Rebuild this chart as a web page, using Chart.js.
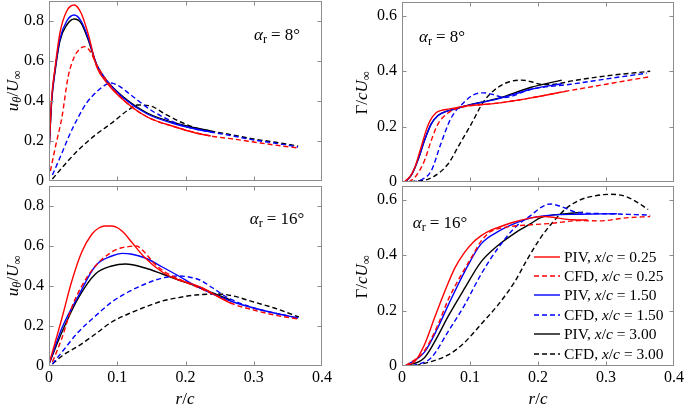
<!DOCTYPE html>
<html>
<head>
<meta charset="utf-8">
<script src="https://cdn.jsdelivr.net/npm/chart.js@4.4.1/dist/chart.umd.min.js"></script>
<style>
  body { margin: 0; background: #fff; }
  #wrap { position: relative; width: 685px; height: 407px; overflow: hidden; font-family: "Liberation Serif", "DejaVu Serif", serif; color: #000; }
  canvas { position: absolute; }
  .lbl { position: absolute; white-space: nowrap; font-size: 17px; line-height: 1; z-index: 5; }
  .rot { transform: translate(-50%, -50%) rotate(-90deg); }
  .ctr { transform: translate(-50%, -50%); }
  .eq { margin: 0 4px; }
  sub { font-size: 0.72em; vertical-align: -0.3em; line-height: 0; }
  #legend { position: absolute; left: 534px; top: 247px; z-index: 5; font-size: 15.5px; }
  .lrow { display: flex; align-items: center; height: 19.4px; white-space: nowrap; }
  .lrow svg { margin-right: 4px; }
</style>
</head>
<body>
<div id="wrap">
  <canvas id="tl"></canvas>
  <canvas id="tr"></canvas>
  <canvas id="bl"></canvas>
  <canvas id="br"></canvas>

  <div class="lbl rot" style="left:12px; top:91px;"><i>u</i><sub><i>θ</i></sub>/<i>U</i><sub>∞</sub></div>
  <div class="lbl rot" style="left:12px; top:276px;"><i>u</i><sub><i>θ</i></sub>/<i>U</i><sub>∞</sub></div>
  <div class="lbl rot" style="left:361px; top:93px;">Γ/<i>cU</i><sub>∞</sub></div>
  <div class="lbl rot" style="left:361px; top:277px;">Γ/<i>cU</i><sub>∞</sub></div>

  <div class="lbl ctr" style="left:277px; top:34px;"><i>α</i><sub>r</sub><span class="eq">=</span>8°</div>
  <div class="lbl ctr" style="left:442px; top:36px;"><i>α</i><sub>r</sub><span class="eq">=</span>8°</div>
  <div class="lbl ctr" style="left:277px; top:218px;"><i>α</i><sub>r</sub><span class="eq">=</span>16°</div>
  <div class="lbl ctr" style="left:440px; top:222px;"><i>α</i><sub>r</sub><span class="eq">=</span>16°</div>

  <div class="lbl ctr" style="left:185px; top:398px;"><i>r</i>/<i>c</i></div>
  <div class="lbl ctr" style="left:538px; top:398px;"><i>r</i>/<i>c</i></div>

  <div id="legend"></div>
</div>

<script>
// 軸刻度
const xTicks = [0, 0.1, 0.2, 0.3, 0.4];
const uTicks = [0, 0.2, 0.4, 0.6, 0.8];
const gTicks = [0, 0.2, 0.4, 0.6];
const rMax = 0.4, uMax = 0.9, gMax = 0.65;

const seriesNames = ['PIV, x/c = 0.25', 'CFD, x/c = 0.25', 'PIV, x/c = 1.50', 'CFD, x/c = 1.50', 'PIV, x/c = 3.00', 'CFD, x/c = 3.00'];
const seriesColors = ['#ff0000', '#ff0000', '#0000ff', '#0000ff', '#000000', '#000000'];
const seriesDash = [[], [5, 3], [], [5, 3], [], [5, 3]];

// u_θ/U∞, α = 8°
const u8_piv_r = [0, 0.004, 0.009, 0.016, 0.026, 0.037, 0.047, 0.057, 0.07, 0.085, 0.109, 0.144, 0.185, 0.215, 0.237];
const u8_piv025 = [0.146, 0.42, 0.57, 0.74, 0.85, 0.88, 0.84, 0.74, 0.57, 0.49, 0.405, 0.32, 0.27, 0.24, 0.225];
const u8_piv150 = [0.146, 0.41, 0.56, 0.71, 0.80, 0.83, 0.80, 0.72, 0.58, 0.50, 0.415, 0.335, 0.285, 0.26, 0.245];
const u8_piv300 = [0.146, 0.40, 0.55, 0.70, 0.78, 0.81, 0.79, 0.71, 0.58, 0.50, 0.42, 0.34, 0.29, 0.265, 0.25];
const u8_cfd025_r = [0.002, 0.01, 0.019, 0.028, 0.037, 0.045, 0.053, 0.06, 0.07, 0.085, 0.109, 0.144, 0.185, 0.237, 0.27, 0.3, 0.33, 0.365];
const u8_cfd025 = [0.05, 0.18, 0.32, 0.52, 0.62, 0.66, 0.672, 0.65, 0.58, 0.5, 0.405, 0.32, 0.27, 0.225, 0.21, 0.195, 0.18, 0.165];
const u8_cfd150_r = [0.005, 0.019, 0.03, 0.043, 0.055, 0.068, 0.08, 0.09, 0.1, 0.12, 0.149, 0.17, 0.193, 0.215, 0.237, 0.27, 0.3, 0.33, 0.365];
const u8_cfd150 = [0.03, 0.14, 0.23, 0.32, 0.39, 0.44, 0.475, 0.49, 0.48, 0.43, 0.355, 0.315, 0.28, 0.26, 0.245, 0.225, 0.205, 0.19, 0.17];
const u8_cfd300_r = [0.005, 0.02, 0.043, 0.068, 0.092, 0.116, 0.13, 0.149, 0.17, 0.193, 0.215, 0.237, 0.27, 0.3, 0.33, 0.365];
const u8_cfd300 = [0.01, 0.07, 0.155, 0.23, 0.29, 0.355, 0.38, 0.375, 0.335, 0.295, 0.265, 0.25, 0.23, 0.21, 0.195, 0.175];

// Γ/cU∞, α = 8°
const g8_piv025_r = [0.003, 0.012, 0.019, 0.025, 0.031, 0.036, 0.041, 0.05, 0.06, 0.068, 0.092, 0.141, 0.188, 0.242];
const g8_piv025 = [0, 0.02, 0.053, 0.1, 0.15, 0.19, 0.22, 0.25, 0.26, 0.263, 0.274, 0.285, 0.303, 0.328];
const g8_piv_r = [0.005, 0.015, 0.025, 0.033, 0.043, 0.053, 0.065, 0.08, 0.092, 0.141, 0.19, 0.235];
const g8_piv150 = [0, 0.03, 0.09, 0.15, 0.21, 0.24, 0.255, 0.265, 0.274, 0.30, 0.335, 0.355];
const g8_piv300 = [0, 0.03, 0.09, 0.15, 0.21, 0.24, 0.255, 0.265, 0.274, 0.302, 0.342, 0.368];
const g8_cfd025_r = [0.01, 0.02, 0.033, 0.043, 0.053, 0.068, 0.08, 0.092, 0.141, 0.188, 0.242, 0.3, 0.33, 0.362];
const g8_cfd025 = [0, 0.02, 0.077, 0.15, 0.21, 0.25, 0.265, 0.272, 0.285, 0.303, 0.328, 0.353, 0.366, 0.379];
const g8_cfd150_r = [0.015, 0.03, 0.043, 0.057, 0.072, 0.092, 0.105, 0.12, 0.135, 0.15, 0.19, 0.248, 0.3, 0.36];
const g8_cfd150 = [0, 0.01, 0.04, 0.137, 0.23, 0.29, 0.315, 0.322, 0.315, 0.305, 0.335, 0.353, 0.372, 0.393];
const g8_cfd300_r = [0.012, 0.043, 0.068, 0.082, 0.102, 0.12, 0.14, 0.158, 0.176, 0.19, 0.203, 0.22, 0.25, 0.3, 0.365];
const g8_cfd300 = [0, 0.015, 0.066, 0.125, 0.21, 0.29, 0.34, 0.362, 0.368, 0.362, 0.353, 0.352, 0.365, 0.383, 0.4];

// u_θ/U∞, α = 16°
const u16_piv025_r = [0, 0.01, 0.019, 0.033, 0.048, 0.063, 0.073, 0.082, 0.092, 0.101, 0.11, 0.121, 0.141, 0.166, 0.19, 0.2, 0.225, 0.248, 0.268];
const u16_piv025 = [0.01, 0.13, 0.24, 0.42, 0.57, 0.66, 0.69, 0.70, 0.70, 0.69, 0.665, 0.62, 0.54, 0.47, 0.43, 0.42, 0.39, 0.345, 0.31];
const u16_piv150_r = [0, 0.019, 0.043, 0.068, 0.092, 0.107, 0.12, 0.141, 0.166, 0.19, 0.215, 0.24, 0.27, 0.3, 0.33, 0.365];
const u16_piv150 = [0.01, 0.19, 0.35, 0.50, 0.55, 0.563, 0.56, 0.54, 0.495, 0.45, 0.40, 0.36, 0.32, 0.29, 0.265, 0.24];
const u16_piv300_r = [0, 0.019, 0.043, 0.068, 0.092, 0.112, 0.141, 0.166, 0.19, 0.215, 0.24, 0.266];
const u16_piv300 = [0.01, 0.17, 0.34, 0.46, 0.50, 0.51, 0.49, 0.46, 0.43, 0.40, 0.365, 0.33];
const u16_cfd025_r = [0.005, 0.019, 0.033, 0.048, 0.068, 0.092, 0.105, 0.116, 0.128, 0.141, 0.155, 0.17, 0.19, 0.22, 0.25, 0.27, 0.3, 0.33, 0.365];
const u16_cfd025 = [0.02, 0.14, 0.29, 0.40, 0.50, 0.57, 0.59, 0.597, 0.60, 0.565, 0.51, 0.47, 0.435, 0.39, 0.345, 0.31, 0.28, 0.255, 0.235];
const u16_cfd150_r = [0.005, 0.019, 0.043, 0.068, 0.092, 0.116, 0.141, 0.166, 0.19, 0.205, 0.221, 0.24, 0.26, 0.3, 0.33, 0.365];
const u16_cfd150 = [0.01, 0.07, 0.17, 0.25, 0.32, 0.37, 0.41, 0.44, 0.45, 0.445, 0.43, 0.39, 0.345, 0.29, 0.265, 0.24];
const u16_cfd300_r = [0.005, 0.019, 0.043, 0.068, 0.092, 0.116, 0.141, 0.166, 0.19, 0.215, 0.248, 0.27, 0.3, 0.33, 0.366];
const u16_cfd300 = [0.01, 0.05, 0.10, 0.16, 0.22, 0.26, 0.295, 0.325, 0.342, 0.355, 0.36, 0.35, 0.32, 0.29, 0.245];

// Γ/cU∞, α = 16°
const g16_piv025_r = [0.003, 0.019, 0.033, 0.048, 0.063, 0.078, 0.092, 0.104, 0.116, 0.13, 0.141, 0.165, 0.19, 0.21, 0.227, 0.25, 0.273];
const g16_piv025 = [0, 0.017, 0.077, 0.175, 0.27, 0.355, 0.41, 0.445, 0.47, 0.49, 0.50, 0.52, 0.535, 0.54, 0.535, 0.528, 0.527];
const g16_piv150_r = [0.005, 0.033, 0.053, 0.068, 0.092, 0.116, 0.141, 0.166, 0.19, 0.22, 0.26, 0.316];
const g16_piv150 = [0, 0.05, 0.14, 0.22, 0.34, 0.44, 0.485, 0.515, 0.535, 0.545, 0.548, 0.55];
const g16_piv300_r = [0.005, 0.033, 0.053, 0.068, 0.092, 0.116, 0.141, 0.166, 0.19, 0.203, 0.242, 0.266];
const g16_piv300 = [0, 0.03, 0.11, 0.18, 0.28, 0.375, 0.435, 0.48, 0.515, 0.535, 0.55, 0.555];
const g16_cfd025_r = [0.005, 0.033, 0.053, 0.068, 0.085, 0.104, 0.116, 0.13, 0.15, 0.19, 0.22, 0.26, 0.29, 0.33, 0.365];
const g16_cfd025 = [0, 0.055, 0.15, 0.24, 0.32, 0.40, 0.45, 0.485, 0.50, 0.51, 0.515, 0.525, 0.524, 0.535, 0.54];
const g16_cfd150_r = [0.015, 0.043, 0.068, 0.092, 0.116, 0.141, 0.166, 0.19, 0.206, 0.218, 0.235, 0.257, 0.3, 0.365];
const g16_cfd150 = [0, 0.03, 0.125, 0.22, 0.33, 0.425, 0.50, 0.545, 0.575, 0.585, 0.575, 0.555, 0.55, 0.545];
const g16_cfd300_r = [0.02, 0.068, 0.092, 0.116, 0.141, 0.166, 0.183, 0.203, 0.222, 0.242, 0.262, 0.285, 0.306, 0.325, 0.34, 0.362];
const g16_cfd300 = [0, 0.04, 0.085, 0.15, 0.22, 0.305, 0.38, 0.46, 0.52, 0.57, 0.60, 0.615, 0.62, 0.615, 0.60, 0.565];

// 外框與向內刻度
const framePlugin = {
  id: 'frame',
  afterDraw(chart) {
    const { ctx, chartArea: a, scales } = chart;
    const L = Math.round(a.left) + 0.5, R = Math.round(a.right) - 0.5;
    const T = Math.round(a.top) + 0.5, B = Math.round(a.bottom) - 0.5;
    ctx.save();
    ctx.strokeStyle = '#8c8c8c';
    ctx.lineWidth = 1;
    ctx.strokeRect(L, T, R - L, B - T);
    ctx.beginPath();
    scales.x.ticks.forEach(t => {
      const px = Math.round(scales.x.getPixelForValue(t.value)) + 0.5;
      if (px <= L + 1 || px >= R - 1) return;
      ctx.moveTo(px, B); ctx.lineTo(px, B - 4);
      ctx.moveTo(px, T); ctx.lineTo(px, T + 4);
    });
    scales.y.ticks.forEach(t => {
      const py = Math.round(scales.y.getPixelForValue(t.value)) + 0.5;
      if (py <= T + 1 || py >= B - 1) return;
      ctx.moveTo(L, py); ctx.lineTo(L + 4, py);
      ctx.moveTo(R, py); ctx.lineTo(R - 4, py);
    });
    ctx.stroke();
    ctx.restore();
  }
};

function toPoints(r, v) {
  return r.map((x, i) => ({ x: x, y: v[i] }));
}

const tickFont = { family: 'Liberation Serif', size: 16 };
const fmt = v => v === 0 ? '0' : v.toFixed(1);

function makeChart(id, box, yMax, yTicks, showX, series) {
  const [l, t, r, b] = box;
  const cv = document.getElementById(id);
  cv.width = r - l + 80;
  cv.height = b - t + 60;
  cv.style.left = (l - 60) + 'px';
  cv.style.top = (t - 20) + 'px';
  const datasets = series.map((s, i) => ({
    label: seriesNames[i],
    data: toPoints(s[0], s[1]),
    borderColor: seriesColors[i],
    borderDash: seriesDash[i],
    borderWidth: 1.4,
    pointRadius: 0,
    fill: false,
    cubicInterpolationMode: 'monotone'
  }));
  return new Chart(cv, {
    type: 'line',
    data: { datasets: datasets },
    options: {
      responsive: false,
      animation: false,
      devicePixelRatio: 1,
      layout: { padding: { left: 0, top: 20, right: 20, bottom: 0 } },
      plugins: { legend: { display: false }, tooltip: { enabled: false } },
      scales: {
        x: {
          type: 'linear', min: 0, max: rMax,
          afterBuildTicks: s => { s.ticks = xTicks.map(v => ({ value: v })); },
          afterFit: s => { s.height = 40; s.paddingLeft = 0; s.paddingRight = 0; },
          grid: { display: false, drawTicks: false },
          border: { display: false },
          ticks: { display: showX, font: tickFont, color: '#000', padding: 2, maxRotation: 0, callback: fmt }
        },
        y: {
          type: 'linear', min: 0, max: yMax,
          afterBuildTicks: s => { s.ticks = yTicks.map(v => ({ value: v })); },
          afterFit: s => { s.width = 60; s.paddingTop = 0; s.paddingBottom = 0; },
          grid: { display: false, drawTicks: false },
          border: { display: false },
          ticks: { font: tickFont, color: '#000', padding: 5, callback: fmt }
        }
      }
    },
    plugins: [framePlugin]
  });
}

makeChart('tl', [49, 1, 322, 181], uMax, uTicks, false, [
  [u8_piv_r, u8_piv025], [u8_cfd025_r, u8_cfd025],
  [u8_piv_r, u8_piv150], [u8_cfd150_r, u8_cfd150],
  [u8_piv_r, u8_piv300], [u8_cfd300_r, u8_cfd300]
]);
makeChart('tr', [402, 2, 674, 182], gMax, gTicks, false, [
  [g8_piv025_r, g8_piv025], [g8_cfd025_r, g8_cfd025],
  [g8_piv_r, g8_piv150], [g8_cfd150_r, g8_cfd150],
  [g8_piv_r, g8_piv300], [g8_cfd300_r, g8_cfd300]
]);
makeChart('bl', [49, 186, 322, 366], uMax, uTicks, true, [
  [u16_piv025_r, u16_piv025], [u16_cfd025_r, u16_cfd025],
  [u16_piv150_r, u16_piv150], [u16_cfd150_r, u16_cfd150],
  [u16_piv300_r, u16_piv300], [u16_cfd300_r, u16_cfd300]
]);
const brChart = makeChart('br', [402, 186, 674, 366], gMax, gTicks, true, [
  [g16_piv025_r, g16_piv025], [g16_cfd025_r, g16_cfd025],
  [g16_piv150_r, g16_piv150], [g16_cfd150_r, g16_cfd150],
  [g16_piv300_r, g16_piv300], [g16_cfd300_r, g16_cfd300]
]);

// 圖例（右下圖內）
const legendEl = document.getElementById('legend');
brChart.data.datasets.forEach(ds => {
  const row = document.createElement('div');
  row.className = 'lrow';
  const dash = ds.borderDash.length ? ds.borderDash.join(' ') : 'none';
  const text = ds.label.replace('x/c', '<i>x</i>/<i>c</i>');
  row.innerHTML = `<svg width="26" height="10"><line x1="0" y1="5" x2="26" y2="5" stroke="${ds.borderColor}" stroke-width="1.4" stroke-dasharray="${dash}"/></svg><span>${text}</span>`;
  legendEl.appendChild(row);
});
</script>
</body>
</html>
